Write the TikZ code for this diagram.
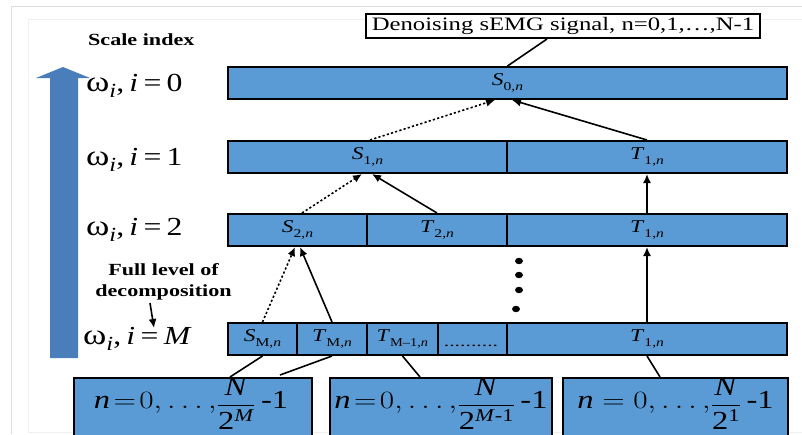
\documentclass[tikz,border=0pt]{standalone}
\usepackage{fontspec}
\setmainfont{Liberation Serif}
\usepackage{amsmath}
\usepackage{graphicx}
\usetikzlibrary{arrows.meta}

\definecolor{cellblue}{HTML}{5B9BD5}
\definecolor{arrowblue}{HTML}{4A7EBB}

% lowered subscript used in the coefficient labels
\newcommand{\lowsub}[1]{\raisebox{-0.5ex}{\fontsize{12}{12}\selectfont #1}}
% horizontally widened text
\newcommand{\wide}[2]{\scalebox{#1}[1]{#2}}
% a coefficient label such as S_{1,n}
\newcommand{\coef}[2]{\wide{1.3}{\fontsize{18}{18}\selectfont\textit{#1}\lowsub{#2}}}
% a scale label such as omega_i, i=0
\newcommand{\scalelab}[1]{\wide{1.22}{\fontsize{26}{26}\selectfont {\fontsize{29}{29}\selectfont ω}\raisebox{-6pt}{\fontsize{20}{20}\selectfont\textit{i}},\,\textit{i}\,=\,#1}}
% large text-font fraction N / 2^e
\newcommand{\bigtext}[1]{\text{\fontsize{26}{26}\selectfont #1}}
\newcommand{\sizefrac}[1]{\raisebox{-4pt}{$\dfrac{\bigtext{\textit{N}}}{\bigtext{2\raisebox{8pt}{\fontsize{18}{18}\selectfont #1}}}$}}
% a sample range n = 0, ..., N / 2^e - 1
\newcommand{\range}[2]{\wide{1.25}{\fontsize{26}{26}\selectfont$\textit{n}#1 0,\ldots,$\sizefrac{#2}\,-1}}

\begin{document}
\begin{tikzpicture}[x=1pt,y=-1pt,
  cell/.style={draw=black, line width=2pt, fill=cellblue, inner sep=0pt,
    minimum height=32pt, anchor=center},
  seg/.style={cell, minimum height=62pt},
  link/.style={line width=1.6pt},
  up/.style={link, -{Latex[length=9pt,width=8pt]}},
  dotup/.style={up, dash pattern=on 2.2pt off 2.2pt},
  boldlab/.style={font=\fontsize{17}{17}\selectfont\bfseries, inner sep=0pt},
  frameline/.style={draw=black!13, line width=0.8pt},
  framefaint/.style={draw=black!6, line width=0.8pt}
]
\useasboundingbox (0,0) rectangle (802,434);
\clip (0,0) rectangle (802,434);

% page frame
\draw[frameline] (11,434) -- (11,6) -- (802,6);
\draw[framefaint] (802,19) -- (28,19) -- (28,432) -- (802,432);

% scale direction arrow
\fill[arrowblue] (50,358) -- (50,78) -- (36,78) -- (63,67) -- (90,78) -- (78,78) -- (78,358) -- cycle;

\node[boldlab, anchor=base west] (scaleidx) at (88,45) {\wide{1.3}{Scale index}};

% scale labels
\node[anchor=base west, inner sep=0pt] (w0) at (86,91) {\scalelab{0}};
\node[anchor=base west, inner sep=0pt] (w1) at (86,165) {\scalelab{1}};
\node[anchor=base west, inner sep=0pt] (w2) at (86,235) {\scalelab{2}};
\node[anchor=base west, inner sep=0pt] (wM) at (83,344) {\scalelab{\textit{M}}};

\node[boldlab, anchor=base] (full) at (163.5,275) {\wide{1.3}{Full level of}};
\node[boldlab, anchor=base] (decomp) at (163.5,296) {\wide{1.3}{decomposition}};
\coordinate (fullA) at (150,303);
\coordinate (fullB) at (154,328);
\draw[up] (fullA) -- (fullB);

% output signal
\node[draw=black, line width=2pt, fill=white, inner sep=0pt, minimum width=394pt,
  minimum height=24pt] (out) at (563,26)
  {\wide{1.3}{\fontsize{19}{19}\selectfont Denoising sEMG signal, n=0,1,\dots,N-1}};

% level 0
\node[cell, minimum width=559pt] (S0) at (507.5,83) {\coef{S}{0,\textit{n}}};
% level 1
\node[cell, minimum width=279pt] (S1) at (367.5,157) {\coef{S}{1,\textit{n}}};
\node[cell, minimum width=280pt] (T1a) at (647,157) {\coef{T}{1,\textit{n}}};
% level 2
\node[cell, minimum width=139pt] (S2) at (297.5,230) {\coef{S}{2,\textit{n}}};
\node[cell, minimum width=140pt] (T2) at (437,230) {\coef{T}{2,\textit{n}}};
\node[cell, minimum width=280pt] (T1b) at (647,230) {\coef{T}{1,\textit{n}}};
% level M
\node[cell, minimum width=69pt] (SM) at (262.5,339) {\coef{S}{M,\textit{n}}};
\node[cell, minimum width=70pt] (TM) at (332,339) {\coef{T}{M,\textit{n}}};
\node[cell, minimum width=71pt] (TM1) at (402.5,339) {\wide{0.92}{\coef{T}{M\textendash1,\textit{n}}}};
\node[cell, minimum width=69pt] (gap) at (472.5,339) {};
\node[inner sep=0pt, anchor=base] (gapdots) at (471,346) {\wide{1.55}{\fontsize{14}{14}\selectfont ..........}};
\node[cell, minimum width=280pt] (T1c) at (647,339) {\coef{T}{1,\textit{n}}};

% sample ranges
\node[seg, minimum width=238pt] (B1) at (193,409) {};
\node[seg, minimum width=222pt] (B2) at (441,409) {};
\node[seg, minimum width=225pt] (B3) at (675.5,409) {};
\node[inner sep=0pt, anchor=base] (B1t) at (191,408) {\range{\!=\!}{\textit{M}}};
\node[inner sep=0pt, anchor=base] (B2t) at (441,408) {\range{\!=\!}{\textit{M}-1}};
\node[inner sep=0pt, anchor=base] (B3t) at (675.5,408) {\range{=}{1}};

% reconstruction links
\draw[link] ([xshift=-16pt]out.south) -- (S0.north);
\draw[dotup] ([xshift=2.5pt]S1.north) -- ([xshift=-12.5pt]S0.south);
\draw[up] (T1a.north) -- ([xshift=4.5pt]S0.south);
\draw[dotup] ([xshift=4.5pt]S2.north) -- ([xshift=-5.5pt]S1.south);
\draw[up] (T2.north) -- ([xshift=4.5pt]S1.south);
\draw[up] (T1b.north) -- (T1a.south);
\draw[up] (T1c.north) -- (T1b.south);
\draw[dotup] (SM.north) -- ([xshift=-2.5pt]S2.south);
\draw[up] (TM.north) -- ([xshift=2.5pt]S2.south);

% decomposition links
\coordinate (tmend) at (280,375);
\draw[link] (SM.south) -- ([xshift=37pt]B1.north);
\draw[link] (TM.south) -- (tmend);
\draw[link] (TM1.south) -- ([xshift=-21pt]B2.north);
\draw[link] (T1c.south) -- ([xshift=-15.5pt]B3.north);

% continuation dots
\fill (519,261) ellipse (4pt and 3.2pt);
\fill (519,275) ellipse (4pt and 3.2pt);
\fill (519,290) ellipse (4pt and 3.2pt);
\fill (516,309) ellipse (4pt and 3.2pt);
\end{tikzpicture}
\end{document}
